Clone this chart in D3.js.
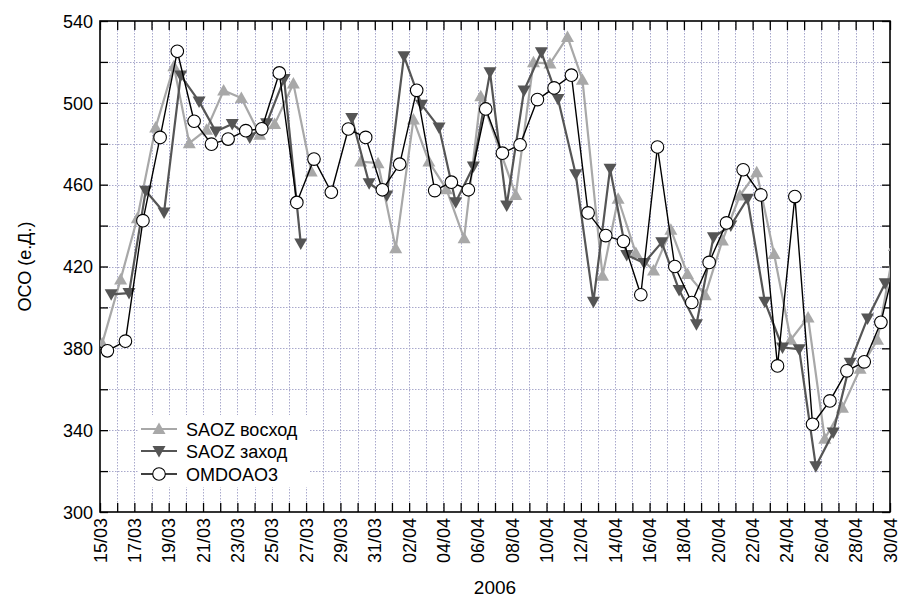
<!DOCTYPE html>
<html>
<head>
<meta charset="utf-8">
<script src="https://cdn.jsdelivr.net/npm/d3@7"></script>
<style>
  body { margin: 0; background: #fff; }
  text { font-family: "Liberation Sans", Arial, sans-serif; fill: #000; }
</style>
</head>
<body>
<div id="chart"></div>
<script>
// days counted from 15/03/2006 00:00 (fractional = time of the measurement)
const riseT = [0.13, 1.2, 2.17, 3.24, 4.3, 5.2, 6.2, 7.2, 8.23, 9.3, 10.17, 11.26, 12.3, 13.2, 14.2,
  15.18, 16.19, 17.22, 18.25, 19.15, 20.17, 21.2, 22.17, 24.21, 25.24, 26.2, 27.22, 28.09, 29.26, 30.17,
  31.2, 32.23, 33.24, 34.21, 35.24, 36.24, 37.26, 38.24, 39.25, 40.22, 41.23, 42.2, 43.23, 44.26, 45.27, 46.25];
const riseV = [382.4, 413.7, 443.6, 488, 517.9, 480.3, 486.9, 506, 502.4, 484.4, 489.6, 509.4, 466.4, null, null,
  471.3, 470.5, 428.9, 491.8, 471.3, 457.8, 433.8, 503.2, 455, 519.8, 519.2, 532.2, 511.3, 415.5, 453.1,
  426.6, 418, 438, 416.3, 406, 432.7, 454.7, 466.1, 426.1, 384.2, 395.1, 335.8, 351, 370, 384.2, 430];

const setT = [0.65, 1.69, 2.66, 3.73, 4.7, 5.77, 6.74, 7.7, 8.72, 9.7, 10.72, 11.69, 12.7, 13.7,
  14.66, 15.67, 16.7, 17.7, 18.72, 19.74, 20.71, 21.74, 22.71, 23.68, 24.69, 25.7, 26.67, 27.7, 28.73, 29.7,
  30.67, 31.68, 32.71, 33.72, 34.73, 35.72, 36.73, 37.7, 38.71, 39.74, 40.71, 41.68, 42.69, 43.68, 44.69, 45.72];
const setV = [406.4, 407, 457, 446.4, 513.3, 500.7, 486, 489.6, 483.1, 490, 511.7, 431.3, null, null,
  492.6, 460.7, 454.7, 522.8, 499.1, 488, 451.4, 468.9, 514.9, 449.8, 506, 524.7, 501.9, 465.1, 402.8, 467.8,
  425.6, 421.7, 431.8, 408.5, 391.8, 434.3, 440, 453.1, 402.8, 380.4, 379.6, 322.4, 338.8, 373, 394.6, 411.8];

const omiT = [-0.55, 0.43, 1.48, 2.5, 3.5, 4.5, 5.48, 6.49, 7.46, 8.49, 9.42, 10.44, 11.46, 12.46, 13.47, 14.46,
  15.47, 16.44, 17.45, 18.44, 19.49, 20.46, 21.45, 22.46, 23.43, 24.46, 25.47, 26.44, 27.45, 28.42, 29.45,
  30.48, 31.49, 32.46, 33.47, 34.46, 35.47, 36.48, 37.45, 38.48, 39.45, 40.46, 41.49, 42.5, 43.49, 44.5, 45.47, 46.45];
const omiV = [383, 378.8, 383.5, 442.4, 483.1, 525.2, 491, 479.8, 482.3, 486.4, 487.3, 514.6, 451.3, 472.5, 456.3, 487.2,
  483.1, 457.5, 470, 506.1, 457.1, 461.2, 457.5, 497, 475.4, 479.5, 501.6, 507.3, 513.5, 446.2, 435.1,
  432.3, 406.2, 478.4, 420, 402.4, 422, 441.3, 467.3, 455, 371.4, 454.2, 342.9, 354.3, 369, 373.4, 392.7, 427];

const yTicks = [300, 340, 380, 420, 460, 500, 540];
const seriesNames = ["SAOZ восход", "SAOZ заход", "OMDOAO3"];

;(function () {
  const width = 898, height = 603;
  const pLeft = 100, pRight = 890, pTop = 21, pBottom = 512;

  const day0 = Date.UTC(2006, 2, 15);
  const toDate = t => new Date(day0 + t * 864e5);

  const svg = d3.select("#chart").append("svg")
    .attr("width", width).attr("height", height);

  const x = d3.scaleUtc().domain([toDate(0), toDate(46)]).range([pLeft, pRight]);
  const y = d3.scaleLinear().domain([300, 540]).range([pBottom, pTop]);

  const days = d3.utcDay.range(toDate(0), toDate(46.5));

  // grid
  const grid = svg.append("g").attr("stroke", "#a9a9cc").attr("stroke-width", 1).attr("stroke-dasharray", "1.5,1.5");
  grid.selectAll(".vg").data(days.slice(1, -1)).join("line")
    .attr("x1", d => Math.round(x(d)) + 0.5).attr("x2", d => Math.round(x(d)) + 0.5)
    .attr("y1", pTop).attr("y2", pBottom);
  grid.selectAll(".hg").data(d3.range(320, 540, 20)).join("line")
    .attr("x1", pLeft).attr("x2", pRight)
    .attr("y1", d => Math.round(y(d)) + 0.5).attr("y2", d => Math.round(y(d)) + 0.5);

  // axes with inward ticks
  const fmt = d3.utcFormat("%d/%m");
  const xAxis = d3.axisBottom(x).tickValues(days).tickSizeInner(-9).tickSizeOuter(0)
    .tickFormat((d, i) => i % 2 === 0 ? fmt(d) : "");
  const gx = svg.append("g").attr("transform", `translate(0,${pBottom})`).call(xAxis);
  gx.selectAll("text")
    .attr("y", null).attr("dy", null)
    .attr("text-anchor", "end")
    .attr("font-size", 18)
    .attr("transform", "translate(6,6) rotate(-90)");

  svg.append("g").attr("transform", `translate(0,${pTop})`)
    .call(d3.axisTop(x).tickValues(days).tickSizeInner(-9).tickSizeOuter(0).tickFormat(""));

  const yAxis = d3.axisLeft(y).tickValues(d3.range(300, 541, 20)).tickSizeInner(-8).tickSizeOuter(0)
    .tickFormat(d => yTicks.includes(d) ? d : "");
  const gy = svg.append("g").attr("transform", `translate(${pLeft},0)`).call(yAxis);
  gy.selectAll("text")
    .attr("x", -7).attr("dy", "0.35em")
    .attr("font-size", 18);

  svg.append("g").attr("transform", `translate(${pRight},0)`)
    .call(d3.axisRight(y).tickValues(d3.range(300, 541, 20)).tickSizeInner(-8).tickSizeOuter(0).tickFormat(""));

  svg.selectAll(".domain").remove();
  svg.selectAll(".tick line").attr("stroke", "#000").attr("stroke-width", 1.3);
  svg.selectAll(".tick text").style("font-family", "'Liberation Sans', Arial, sans-serif");

  svg.append("rect").attr("x", pLeft).attr("y", pTop).attr("width", pRight - pLeft).attr("height", pBottom - pTop)
    .attr("fill", "none").attr("stroke", "#000").attr("stroke-width", 1.6);

  // titles
  svg.append("text").attr("text-anchor", "middle").attr("font-size", 18)
    .attr("transform", `translate(31,${(pTop + pBottom) / 2}) rotate(-90)`)
    .text("ОСО (е.Д.)");
  svg.append("text").attr("text-anchor", "middle").attr("font-size", 19)
    .attr("x", (pLeft + pRight) / 2).attr("y", 594)
    .text("2006");

  // series
  svg.append("clipPath").attr("id", "clip").append("rect")
    .attr("x", pLeft).attr("y", pTop).attr("width", pRight - pLeft).attr("height", pBottom - pTop);
  const plot = svg.append("g").attr("clip-path", "url(#clip)");

  const triUp = "M0,-6.5L6.5,5L-6.5,5Z";
  const triDown = "M0,6.5L6.5,-5L-6.5,-5Z";

  const series = [
    { t: riseT, v: riseV, color: "#a8a8a8", width: 2.2, marker: "up" },
    { t: setT, v: setV, color: "#555555", width: 2.2, marker: "down" },
    { t: omiT, v: omiV, color: "#000000", width: 1.4, marker: "circle" }
  ];

  const line = d3.line().defined(d => d.v !== null).x(d => x(toDate(d.t))).y(d => y(d.v));

  series.forEach(s => {
    const pts = s.t.map((t, i) => ({ t: t, v: s.v[i] }));
    plot.append("path").datum(pts).attr("d", line)
      .attr("fill", "none").attr("stroke", s.color).attr("stroke-width", s.width).attr("stroke-linejoin", "round");
    const ok = pts.filter(d => d.v !== null);
    if (s.marker === "circle") {
      plot.selectAll(null).data(ok).join("circle")
        .attr("cx", d => x(toDate(d.t))).attr("cy", d => y(d.v)).attr("r", 6.3)
        .attr("fill", "#fff").attr("stroke", "#000").attr("stroke-width", 1.1);
    } else {
      plot.selectAll(null).data(ok).join("path")
        .attr("d", s.marker === "up" ? triUp : triDown)
        .attr("transform", d => `translate(${x(toDate(d.t))},${y(d.v)})`)
        .attr("fill", s.color);
    }
  });

  // legend
  const lg = svg.append("g");
  lg.append("rect").attr("x", 138).attr("y", 415).attr("width", 172).attr("height", 72).attr("fill", "#fff");
  const rows = [429, 451, 474];
  series.forEach((s, i) => {
    const ry = rows[i];
    lg.append("line").attr("x1", 141).attr("x2", 177).attr("y1", ry).attr("y2", ry)
      .attr("stroke", s.color).attr("stroke-width", s.width);
    if (s.marker === "circle") {
      lg.append("circle").attr("cx", 159).attr("cy", ry).attr("r", 6.3)
        .attr("fill", "#fff").attr("stroke", "#000").attr("stroke-width", 1.1);
    } else {
      lg.append("path").attr("d", s.marker === "up" ? triUp : triDown)
        .attr("transform", `translate(159,${ry})`).attr("fill", s.color);
    }
    lg.append("text").attr("font-size", 18)
      .attr("x", 186).attr("y", ry + 6.5)
      .text(seriesNames[i]);
  });
})()
</script>
</body>
</html>
